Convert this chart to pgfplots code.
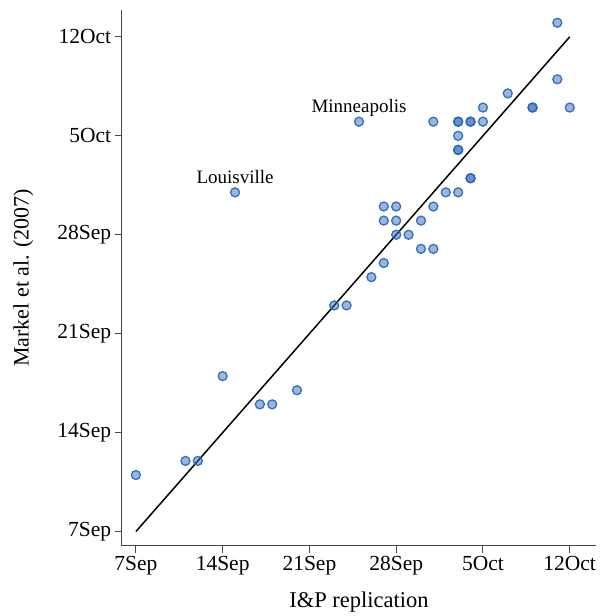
\documentclass[border=0pt]{standalone}
\usepackage{fontspec}
\setmainfont{Liberation Serif}
\usepackage{pgfplots}
\pgfplotsset{compat=1.18}
\definecolor{ptblue}{RGB}{40,100,180}
\definecolor{ptfill}{RGB}{50,110,190}
\definecolor{axgray}{RGB}{70,70,70}
\begin{document}
\begin{tikzpicture}
\begin{axis}[
  scale only axis, width=475pt, height=536pt,
  xmin=-1.15, xmax=37.15, ymin=-1.0, ymax=36.9,
  axis x line*=bottom, axis y line*=left,
  axis line style={axgray, line width=1.1pt, -},
  xtick={0,7,14,21,28,35}, ytick={0,7,14,21,28,35},
  xticklabels={7Sep,14Sep,21Sep,28Sep,5Oct,12Oct},
  yticklabels={7Sep,14Sep,21Sep,28Sep,5Oct,12Oct},
  tick align=outside, major tick length=7pt,
  tick style={axgray, line width=1.1pt},
  ticklabel style={font=\fontsize{21.5}{26}\selectfont},
  xlabel={I\&P replication},
  ylabel={Markel et al. (2007)},
  every axis x label/.style={at={(rel axis cs:0.5,-0.116)}, anchor=base, font=\fontsize{22.5}{26}\selectfont},
  every axis y label/.style={at={(rel axis cs:-0.207,0.5)}, rotate=90, anchor=center, font=\fontsize{22}{26}\selectfont},
  clip=false,
]
\path[draw=none] (rel axis cs:-0.2562,-0.1312) rectangle (rel axis cs:1.0069,1.0187);
\addplot[black, line width=1.5pt] coordinates {(0,0) (35,35)};
\addplot[only marks, mark=*, mark size=4.5pt,
  mark options={fill=ptfill, fill opacity=0.5, draw=ptblue, draw opacity=0.9, line width=1.3pt}]
coordinates {
(34,36) (34,32) (30,31) (32,30) (32,30) (35,30) (28,30)
(18,29) (24,29) (26,29) (26,29) (27,29) (27,29) (28,29)
(26,28) (26,27) (26,27) (27,25) (27,25)
(8,24) (25,24) (26,24)
(20,23) (21,23) (24,23)
(20,22) (21,22) (23,22)
(21,21) (22,21)
(23,20) (24,20)
(20,19) (19,18)
(16,16) (17,16)
(7,11) (13,10) (10,9) (11,9)
(4,5) (5,5) (0,4)
};
\node[font=\fontsize{19}{22}\selectfont, anchor=base] at ([yshift=9pt]axis cs:18,29) {Minneapolis};
\node[font=\fontsize{19}{22}\selectfont, anchor=base] at ([yshift=9pt]axis cs:8,24) {Louisville};
\end{axis}
\end{tikzpicture}
\end{document}
